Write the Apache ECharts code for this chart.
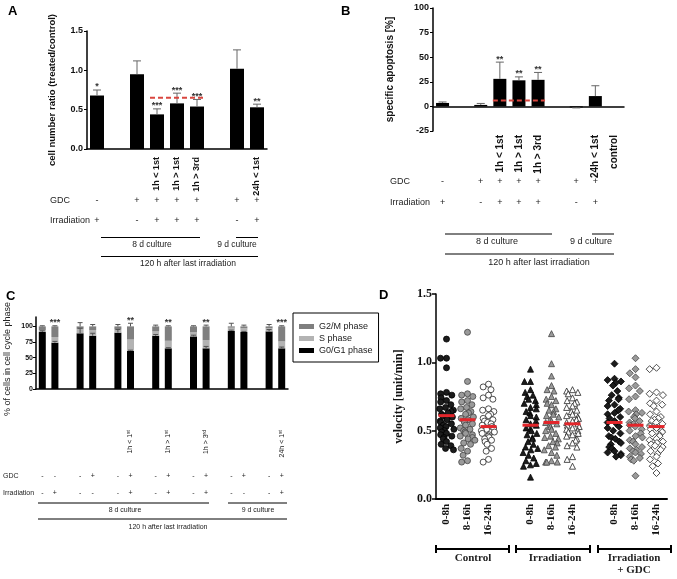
<!DOCTYPE html>
<html>
<head>
<meta charset="utf-8">
<script src="https://cdn.jsdelivr.net/npm/echarts@6.0.0/dist/echarts.min.js"></script>
<style>
  html, body { margin: 0; padding: 0; background: #fff; }
  #main { width: 677px; height: 579px; }
</style>
</head>
<body>
<div id="main"></div>
<script>
// ---- A: cell number ratio ----
const catsA = ['', '', '', '1h < 1st', '1h > 1st', '1h > 3rd', '', '', '24h < 1st']
const ratioA = [0.68, null, 0.95, 0.44, 0.58, 0.54, null, 1.02, 0.53]
const ratioErrA = [0.07, null, 0.17, 0.07, 0.13, 0.09, null, 0.24, 0.04]
const starsA = ['*', '', '', '***', '***', '***', '', '', '**']
const gdcA = ['-', '', '+', '+', '+', '+', '', '+', '+']
const irrA = ['+', '', '-', '+', '+', '+', '', '-', '+']
const refA = [3, 5, 0.65]

// ---- B: specific apoptosis ----
const catsB = ['', '', '', '1h < 1st', '1h > 1st', '1h > 3rd', '', '', '24h < 1st', 'control']
const apoB = [3.5, null, 1.5, 28, 26.5, 27, null, -1, 10.5, null]
const apoErrB = [1, null, 1.5, 17, 3.5, 7.5, null, 0.5, 10.5, null]
const starsB = ['', '', '', '**', '**', '**', '', '', '', '']
const gdcB = ['-', '', '+', '+', '+', '+', '', '+', '+', '']
const irrB = ['+', '', '-', '+', '+', '+', '', '-', '+', '']
const refB = [3, 5, 6]

// ---- C: cell cycle phases ----
const catsC = ['', '', '', '', '', '', '', '1h < 1{s|st}', '', '', '1h > 1{s|st}', '', '', '1h > 3{s|rd}', '', '', '', '', '', '24h < 1{s|st}']
const g0C = [91, 74, null, 89, 85, null, 90, 61, null, 85, 65, null, 84, 65, null, 93, 91, null, 92, 65]
const sC = [3, 9, null, 7, 9, null, 5, 18, null, 7, 12, null, 7, 13, null, 5, 6, null, 5, 11]
const g2mC = [6, 17, null, 4, 6, null, 5, 21, null, 8, 23, null, 9, 22, null, 2, 3, null, 3, 24]
const errG0C = [2, 2, null, 8, 4, null, 5, 1, null, 2, 1, null, 2, 3, null, 1, 1, null, 3, 2]
const errTopC = [1, 1, null, 6, 3, null, 3, 5, null, 2, 1, null, 1, 2, null, 5, 2, null, 3, 1]
const starsC = ['', '***', '', '', '', '', '', '**', '', '', '**', '', '', '**', '', '', '', '', '', '***']
const gdcC = ['-', '-', '', '-', '+', '', '-', '+', '', '-', '+', '', '-', '+', '', '-', '+', '', '-', '+']
const irrC = ['-', '+', '', '-', '-', '', '-', '+', '', '-', '+', '', '-', '+', '', '-', '-', '', '-', '+']

// ---- D: velocity ----
const catsD = ['0-8h', '8-16h', '16-24h', '', '0-8h', '8-16h', '16-24h', '', '0-8h', '8-16h', '16-24h']
const ctrl0 = [1.17, 1.03, 1.03, 0.96, 0.78, 0.77, 0.76, 0.74, 0.72, 0.71, 0.69, 0.67, 0.66, 0.65, 0.64, 0.63, 0.62, 0.61, 0.60, 0.59, 0.58, 0.57, 0.56, 0.55, 0.54, 0.53, 0.52, 0.51, 0.50, 0.49, 0.48, 0.47, 0.46, 0.45, 0.44, 0.42, 0.40, 0.39, 0.37, 0.36]
const ctrl8 = [1.22, 0.86, 0.77, 0.76, 0.75, 0.72, 0.71, 0.69, 0.67, 0.66, 0.64, 0.63, 0.62, 0.60, 0.59, 0.58, 0.57, 0.56, 0.55, 0.54, 0.52, 0.51, 0.50, 0.49, 0.48, 0.47, 0.46, 0.45, 0.44, 0.43, 0.41, 0.40, 0.37, 0.35, 0.32, 0.28, 0.27]
const ctrl16 = [0.84, 0.82, 0.80, 0.76, 0.74, 0.73, 0.66, 0.65, 0.64, 0.62, 0.61, 0.59, 0.58, 0.57, 0.56, 0.55, 0.54, 0.53, 0.52, 0.51, 0.50, 0.49, 0.48, 0.47, 0.46, 0.45, 0.44, 0.43, 0.42, 0.40, 0.37, 0.35, 0.29, 0.27]
const irr0 = [0.95, 0.86, 0.86, 0.80, 0.78, 0.76, 0.75, 0.73, 0.72, 0.70, 0.69, 0.67, 0.66, 0.64, 0.63, 0.61, 0.60, 0.58, 0.57, 0.55, 0.54, 0.52, 0.51, 0.50, 0.48, 0.47, 0.45, 0.44, 0.42, 0.40, 0.38, 0.37, 0.36, 0.34, 0.32, 0.30, 0.28, 0.26, 0.25, 0.24, 0.16]
const irr8 = [1.21, 0.99, 0.90, 0.83, 0.80, 0.79, 0.75, 0.73, 0.72, 0.70, 0.69, 0.66, 0.65, 0.64, 0.62, 0.61, 0.60, 0.58, 0.57, 0.56, 0.55, 0.54, 0.53, 0.51, 0.50, 0.48, 0.46, 0.45, 0.44, 0.42, 0.41, 0.39, 0.38, 0.36, 0.34, 0.32, 0.28, 0.27, 0.27, 0.27]
const irr16 = [0.80, 0.79, 0.78, 0.77, 0.74, 0.72, 0.71, 0.70, 0.68, 0.67, 0.65, 0.64, 0.62, 0.61, 0.60, 0.59, 0.58, 0.57, 0.56, 0.55, 0.54, 0.53, 0.52, 0.51, 0.50, 0.49, 0.48, 0.47, 0.46, 0.44, 0.43, 0.41, 0.39, 0.38, 0.31, 0.29, 0.24]
const gdc0 = [0.99, 0.88, 0.87, 0.86, 0.85, 0.83, 0.79, 0.76, 0.74, 0.73, 0.72, 0.69, 0.68, 0.66, 0.65, 0.63, 0.62, 0.60, 0.59, 0.57, 0.56, 0.55, 0.53, 0.52, 0.50, 0.48, 0.46, 0.45, 0.44, 0.42, 0.41, 0.40, 0.38, 0.37, 0.35, 0.34, 0.33, 0.32, 0.31]
const gdc8 = [1.03, 0.95, 0.92, 0.89, 0.83, 0.81, 0.79, 0.75, 0.73, 0.65, 0.64, 0.63, 0.62, 0.60, 0.59, 0.57, 0.56, 0.55, 0.54, 0.53, 0.51, 0.50, 0.48, 0.46, 0.45, 0.43, 0.42, 0.40, 0.38, 0.37, 0.36, 0.35, 0.34, 0.33, 0.31, 0.30, 0.29, 0.28, 0.17]
const gdc16 = [0.96, 0.95, 0.78, 0.77, 0.76, 0.72, 0.70, 0.69, 0.68, 0.64, 0.62, 0.60, 0.59, 0.58, 0.57, 0.56, 0.55, 0.54, 0.53, 0.52, 0.51, 0.50, 0.49, 0.48, 0.47, 0.46, 0.44, 0.43, 0.42, 0.41, 0.40, 0.39, 0.38, 0.36, 0.35, 0.33, 0.31, 0.29, 0.26, 0.24, 0.19]
const meanD = [0.61, 0.58, 0.53, null, 0.54, 0.56, 0.55, null, 0.56, 0.54, 0.53]

const sans = 'Liberation Sans'
const serif = 'Liberation Serif'
const idx = n => Array.from({ length: n }, (_, i) => String(i))
const pts = (arr, errs) => arr.map((v, i) => v == null ? null : [i, v, errs ? errs[i] : 0]).filter(Boolean)

function errorBar(stars, color, capHalf, starFont) {
  return function (params, api) {
    const i = api.value(0), v = api.value(1), e = api.value(2)
    const dir = v < 0 ? -1 : 1
    const a = api.coord([i, v]), b = api.coord([i, v + dir * e])
    const kids = [
      { type: 'line', shape: { x1: a[0], y1: a[1], x2: b[0], y2: b[1] }, style: { stroke: color, lineWidth: 1 } },
      { type: 'line', shape: { x1: b[0] - capHalf, y1: b[1], x2: b[0] + capHalf, y2: b[1] }, style: { stroke: color, lineWidth: 1 } }
    ]
    if (stars && stars[i]) {
      kids.push({ type: 'text', x: b[0], y: b[1] - 3, style: { text: stars[i], font: starFont, fill: '#333', align: 'center', verticalAlign: 'middle' } })
    }
    return { type: 'group', children: kids }
  }
}

function dashLine(half) {
  return function (params, api) {
    const y = api.value(2)
    const a = api.coord([api.value(0), y]), b = api.coord([api.value(1), y])
    return { type: 'line', shape: { x1: a[0] - half, y1: a[1], x2: b[0] + half, y2: b[1] }, style: { stroke: '#d9463f', lineWidth: 2, lineDash: [5, 3] } }
  }
}

function meanLine(params, api) {
  const p = api.coord([api.value(0), api.value(1)])
  return { type: 'line', shape: { x1: p[0] - 8, y1: p[1], x2: p[0] + 8, y2: p[1] }, style: { stroke: '#e3262b', lineWidth: 3 } }
}

function rowAxis(grid, labels, name, offset, gap, size) {
  return {
    type: 'category', gridIndex: grid, position: 'bottom', offset: offset,
    data: idx(labels.length),
    axisLine: { show: false, onZero: false }, axisTick: { show: false },
    axisLabel: { margin: 0, verticalAlign: 'middle', interval: 0, fontSize: size, color: '#222', fontFamily: sans, formatter: v => labels[+v] },
    name: name, nameLocation: 'start', nameGap: gap,
    nameTextStyle: { fontSize: size, color: '#222', fontFamily: sans, align: 'left', verticalAlign: 'middle' }
  }
}

const axisBlack = { lineStyle: { color: '#000', width: 1.5 } }

const chart = echarts.init(document.getElementById('main'))

const option = {
  animation: false,
  backgroundColor: '#fff',
  textStyle: { fontFamily: sans },
  grid: [
    { left: 87, top: 31, width: 180, height: 118, outerBoundsMode: 'none' },
    { left: 433, top: 8, width: 191, height: 123, outerBoundsMode: 'none' },
    { left: 36, top: 317, width: 252, height: 72, outerBoundsMode: 'none' },
    { left: 436, top: 294, width: 231, height: 205, outerBoundsMode: 'none' }
  ],
  legend: {
    data: ['G2/M phase', 'S phase', 'G0/G1 phase'],
    orient: 'vertical', left: 293, top: 313,
    itemWidth: 15, itemHeight: 5, itemGap: 3,
    padding: [9, 6, 7, 6],
    borderColor: '#000', borderWidth: 1, borderRadius: 0,
    textStyle: { fontSize: 9, color: '#222', fontFamily: sans },
    icon: 'rect'
  },
  xAxis: [
    // 0: A main
    {
      type: 'category', gridIndex: 0, data: idx(catsA.length),
      axisLine: axisBlack,
      axisTick: { alignWithLabel: true, length: 3, interval: i => ratioA[i] != null, lineStyle: { color: '#000' } },
      axisLabel: { rotate: 90, margin: 8, interval: 0, fontSize: 9, fontWeight: 'bold', color: '#111', formatter: v => catsA[+v] }
    },
    rowAxis(0, gdcA, 'GDC', 52, 37, 9),
    rowAxis(0, irrA, 'Irradiation', 72, 37, 9),
    // 3: B zero line
    {
      type: 'category', gridIndex: 1, data: idx(catsB.length), position: 'bottom',
      axisLine: { onZero: true, lineStyle: { color: '#000', width: 1.5 } },
      axisTick: { show: false }, axisLabel: { show: false }
    },
    // 4: B labels
    {
      type: 'category', gridIndex: 1, data: idx(catsB.length), position: 'bottom',
      axisLine: { show: false, onZero: false }, axisTick: { show: false },
      axisLabel: { rotate: 90, margin: 4, interval: 0, fontSize: 10, fontWeight: 'bold', color: '#111', formatter: v => catsB[+v] }
    },
    rowAxis(1, gdcB, 'GDC', 51, 43, 9),
    rowAxis(1, irrB, 'Irradiation', 72, 43, 9),
    // 7: C main
    {
      type: 'category', gridIndex: 2, data: idx(catsC.length),
      axisLine: axisBlack, axisTick: { show: false },
      axisLabel: {
        rotate: 90, margin: 41, interval: 0, fontSize: 7, color: '#222', formatter: v => catsC[+v],
        rich: { s: { fontSize: 5, verticalAlign: 'top', padding: [0, 0, 3, 0] } }
      }
    },
    rowAxis(2, gdcC, 'GDC', 87, 33, 7),
    rowAxis(2, irrC, 'Irradiation', 104, 33, 7),
    // 10: D main
    {
      type: 'category', gridIndex: 3, data: idx(catsD.length),
      jitter: 17, jitterOverlap: false, jitterMargin: 0,
      axisLine: { lineStyle: { color: '#000', width: 2 } },
      axisTick: { alignWithLabel: true, length: 4, interval: i => catsD[i] !== '', lineStyle: { color: '#000', width: 1.5 } },
      axisLabel: { rotate: 90, margin: 5, interval: 0, fontSize: 11, fontWeight: 'bold', fontFamily: serif, color: '#111', formatter: v => catsD[+v] }
    }
  ],
  yAxis: [
    {
      type: 'value', gridIndex: 0, min: 0, max: 1.5, interval: 0.5,
      axisLine: Object.assign({ show: true }, axisBlack), axisTick: { show: true, length: 3, lineStyle: { color: '#000' } },
      splitLine: { show: false },
      axisLabel: { fontSize: 9, fontWeight: 'bold', color: '#111', margin: 4, formatter: v => v.toFixed(1) },
      name: 'cell number ratio (treated/control)', nameLocation: 'middle', nameGap: 30, nameRotate: 90,
      nameTextStyle: { fontSize: 9.5, fontWeight: 'bold', color: '#111' }
    },
    {
      type: 'value', gridIndex: 1, min: -25, max: 100, interval: 25,
      axisLine: Object.assign({ show: true }, axisBlack), axisTick: { show: true, length: 3, lineStyle: { color: '#000' } },
      splitLine: { show: false },
      axisLabel: { fontSize: 9, fontWeight: 'bold', color: '#111', margin: 4 },
      name: 'specific apoptosis [%]', nameLocation: 'middle', nameGap: 38, nameRotate: 90,
      nameTextStyle: { fontSize: 10, fontWeight: 'bold', color: '#111' }
    },
    {
      type: 'value', gridIndex: 2, min: 0, max: 115,
      axisLine: Object.assign({ show: true }, axisBlack),
      axisTick: { show: true, length: 3, customValues: [0, 25, 50, 75, 100], lineStyle: { color: '#000' } },
      splitLine: { show: false },
      axisLabel: { fontSize: 7, fontWeight: 'bold', color: '#111', margin: 3, customValues: [0, 25, 50, 75, 100] },
      name: '% of cells in cell cycle phase', nameLocation: 'middle', nameGap: 24, nameRotate: 90,
      nameTextStyle: { fontSize: 9, color: '#222', padding: [0, 12, 0, 0] }
    },
    {
      type: 'value', gridIndex: 3, min: 0, max: 1.5, interval: 0.5,
      axisLine: { show: true, lineStyle: { color: '#000', width: 1.5 } },
      axisTick: { show: true, length: 4, lineStyle: { color: '#000', width: 1.5 } },
      splitLine: { show: false },
      axisLabel: { fontSize: 12, fontWeight: 'bold', fontFamily: serif, color: '#111', margin: 4, formatter: v => v.toFixed(1) },
      name: 'velocity [unit/min]', nameLocation: 'middle', nameGap: 31, nameRotate: 90,
      nameTextStyle: { fontSize: 12, fontWeight: 'bold', fontFamily: serif, color: '#111' }
    }
  ],
  series: [],
  graphic: []
}

// A
option.series.push(
  { type: 'bar', xAxisIndex: 0, yAxisIndex: 0, data: ratioA, barWidth: 14, itemStyle: { color: '#000' } },
  { type: 'custom', xAxisIndex: 0, yAxisIndex: 0, data: pts(ratioA, ratioErrA), encode: { x: 0, y: 1 }, z: 5,
    renderItem: errorBar(starsA, '#666', 4, 'bold 9px Liberation Sans') },
  { type: 'custom', xAxisIndex: 0, yAxisIndex: 0, data: [refA], encode: { x: [0, 1], y: 2 }, z: 6, renderItem: dashLine(7) }
)

// B
option.series.push(
  { type: 'bar', xAxisIndex: 3, yAxisIndex: 1, data: apoB, barWidth: 13, itemStyle: { color: '#000' } },
  { type: 'custom', xAxisIndex: 3, yAxisIndex: 1, data: pts(apoB, apoErrB), encode: { x: 0, y: 1 }, z: 5,
    renderItem: errorBar(starsB, '#666', 4, 'bold 9px Liberation Sans') },
  { type: 'custom', xAxisIndex: 3, yAxisIndex: 1, data: [refB], encode: { x: [0, 1], y: 2 }, z: 6, renderItem: dashLine(7) }
)

// C
const topC = g0C.map((v, i) => v == null ? null : v + sC[i] + g2mC[i])
option.series.push(
  { name: 'G0/G1 phase', type: 'bar', stack: 'cc', xAxisIndex: 7, yAxisIndex: 2, data: g0C, barWidth: 7, itemStyle: { color: '#000' } },
  { name: 'S phase', type: 'bar', stack: 'cc', xAxisIndex: 7, yAxisIndex: 2, data: sC, barWidth: 7, itemStyle: { color: '#b3b3b3' } },
  { name: 'G2/M phase', type: 'bar', stack: 'cc', xAxisIndex: 7, yAxisIndex: 2, data: g2mC, barWidth: 7, itemStyle: { color: '#7f7f7f' } },
  { type: 'custom', xAxisIndex: 7, yAxisIndex: 2, data: pts(g0C, errG0C), encode: { x: 0, y: 1 }, z: 5,
    renderItem: errorBar(null, '#555', 2.5) },
  { type: 'custom', xAxisIndex: 7, yAxisIndex: 2, data: pts(topC, errTopC), encode: { x: 0, y: 1 }, z: 5,
    renderItem: errorBar(starsC, '#555', 2.5, 'bold 9px Liberation Sans') }
)

// D
const colsD = [
  [0, ctrl0, 'circle', '#1c1c1c', '#000'], [1, ctrl8, 'circle', '#9a9a9a', '#444'], [2, ctrl16, 'circle', '#fff', '#222'],
  [4, irr0, 'triangle', '#1c1c1c', '#000'], [5, irr8, 'triangle', '#9a9a9a', '#444'], [6, irr16, 'triangle', '#fff', '#222'],
  [8, gdc0, 'diamond', '#1c1c1c', '#000'], [9, gdc8, 'diamond', '#9a9a9a', '#444'], [10, gdc16, 'diamond', '#fff', '#222']
]
colsD.forEach(([col, vals, shape, fill, stroke]) => {
  option.series.push({
    type: 'scatter', xAxisIndex: 10, yAxisIndex: 3,
    data: vals.map(v => [col, v]),
    symbol: shape, symbolSize: shape === 'diamond' ? 7 : 6,
    itemStyle: { color: fill, borderColor: stroke, borderWidth: 0.8, opacity: 1 }
  })
})
option.series.push({ type: 'custom', xAxisIndex: 10, yAxisIndex: 3, data: pts(meanD), encode: { x: 0, y: 1 }, z: 10, renderItem: meanLine })

// annotations: panel letters, culture brackets
const letter = (t, x, y) => ({ type: 'text', left: x, top: y, style: { text: t, font: 'bold 13px Liberation Sans', fill: '#000' } })
const hline = (x1, x2, y, w) => ({ type: 'line', shape: { x1, y1: y, x2, y2: y }, style: { stroke: '#000', lineWidth: w || 1 } })
const vline = (x, y1, y2, w) => ({ type: 'line', shape: { x1: x, y1, x2: x, y2 }, style: { stroke: '#000', lineWidth: w || 1 } })
const label = (t, x, y, size, font, weight) => ({ type: 'text', x, y, style: { text: t, font: (weight || 'normal') + ' ' + size + 'px ' + (font || sans), fill: '#222', align: 'center', verticalAlign: 'middle' } })

option.graphic.push(
  letter('A', 8, 5), letter('B', 341, 5), letter('C', 6, 290), letter('D', 379, 289),
  // A
  hline(101, 200, 237.5), label('8 d culture', 152, 245, 8.5),
  hline(236, 258, 237.5), label('9 d culture', 237, 245, 8.5),
  hline(101, 258, 256.5), label('120 h after last irradiation', 188, 264, 8.5),
  // B
  hline(445, 552, 234), label('8 d culture', 497, 242, 9),
  hline(592, 614, 234), label('9 d culture', 591, 242, 9),
  hline(445, 614, 254), label('120 h after last irradiation', 539, 262.5, 9),
  // C
  hline(38, 209, 503), label('8 d culture', 125, 510.5, 7),
  hline(228, 287, 503), label('9 d culture', 258, 510.5, 7),
  hline(38, 287, 519), label('120 h after last irradiation', 168, 527.5, 7),
  // D
  hline(436, 509, 549, 2), vline(436, 545, 553, 2), vline(509, 545, 553, 2),
  hline(516, 590, 549, 2), vline(516, 545, 553, 2), vline(590, 545, 553, 2),
  hline(598, 671, 549, 2), vline(598, 545, 553, 2), vline(671, 545, 553, 2),
  label('Control', 473, 558, 11, serif, 'bold'),
  label('Irradiation', 555, 558, 11, serif, 'bold'),
  label('Irradiation', 634, 558, 11, serif, 'bold'),
  label('+ GDC', 634, 570, 11, serif, 'bold')
)

chart.setOption(option)
</script>
</body>
</html>
